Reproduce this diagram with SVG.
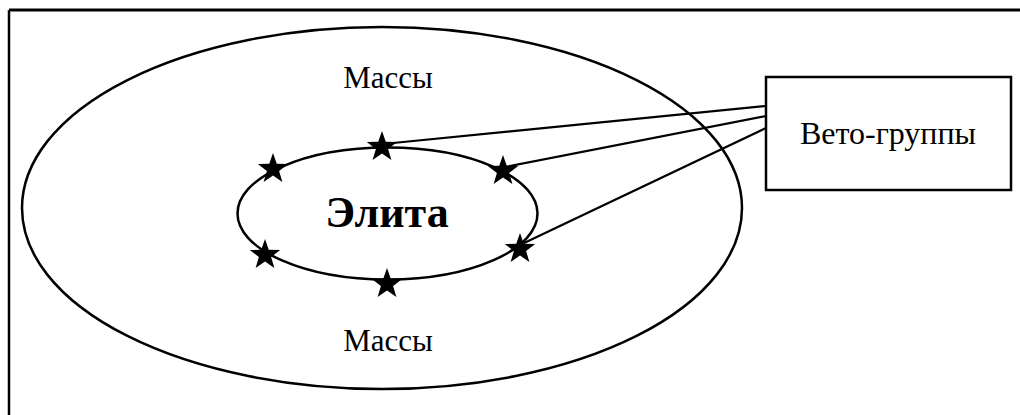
<svg xmlns="http://www.w3.org/2000/svg" width="1020" height="415" viewBox="0 0 1020 415">
  <style>
    .ln { stroke: #000; fill: none; }
    .txt { font-family: "Liberation Serif", "Times New Roman", serif; fill: #000; text-anchor: middle; }
  </style>
  <defs>
    <path id="star" d="M0,-16 L3.76,-5.18 L15.22,-4.94 L6.09,1.98 L9.4,12.94 L0,6.4 L-9.4,12.94 L-6.09,1.98 L-15.22,-4.94 L-3.76,-5.18 Z" fill="#000"/>
  </defs>
  <rect width="1020" height="415" fill="#fff"/>
  <g id="frame">
    <line class="ln" x1="9" y1="10" x2="1020" y2="10" stroke-width="3"/>
    <line class="ln" x1="9" y1="10" x2="9" y2="415" stroke-width="2.5"/>
  </g>
  <g id="masses">
    <ellipse class="ln" cx="382" cy="208" rx="360" ry="181" stroke-width="2.5"/>
    <text class="txt" x="388" y="88" font-size="31">Массы</text>
    <text class="txt" x="388" y="351" font-size="31">Массы</text>
  </g>
  <g id="connectors">
    <line class="ln" x1="393" y1="143" x2="766" y2="106" stroke-width="2.2"/>
    <line class="ln" x1="505" y1="167" x2="766" y2="116" stroke-width="2.2"/>
    <line class="ln" x1="522" y1="244" x2="766" y2="128" stroke-width="2.2"/>
  </g>
  <g id="elite">
    <ellipse class="ln" cx="387.5" cy="213.5" rx="150" ry="66" stroke-width="2.5"/>
    <text class="txt" x="387" y="227" font-size="44" font-weight="bold">Элита</text>
    <use href="#star" x="382" y="147"/>
    <use href="#star" x="273" y="169"/>
    <use href="#star" x="503" y="171"/>
    <use href="#star" x="265" y="255"/>
    <use href="#star" x="387" y="284"/>
    <use href="#star" x="520" y="249"/>
  </g>
  <g id="veto">
    <rect class="ln" x="766" y="77" width="245" height="113" stroke-width="2.5"/>
    <text class="txt" x="888" y="144" font-size="32">Вето-группы</text>
  </g>
</svg>
